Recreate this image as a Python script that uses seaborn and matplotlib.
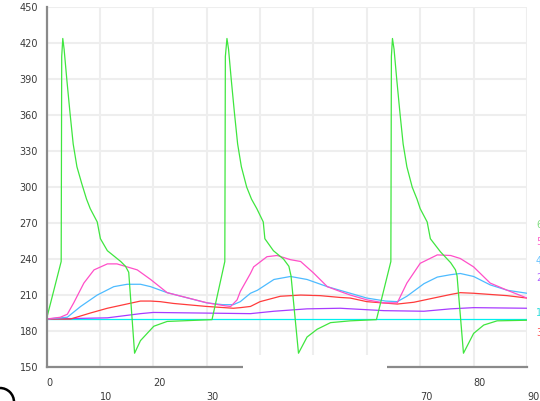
import matplotlib
matplotlib.use("Agg")
import matplotlib.pyplot as plt
import seaborn as sns
import pandas as pd
from matplotlib.patches import Rectangle, Arc

# ---------------- data ----------------
s6_x = [0, 2.75, 2.85, 3.05, 3.3, 3.8, 4.4, 5.0, 5.7, 6.6, 7.5, 8.2, 9.5, 10.1, 11.4, 13.9, 14.8, 15.4,
        16.5, 17.6, 20.1, 22.6, 31.0,
        33.4, 33.5, 33.8, 34.1, 34.6, 35.2, 35.8, 36.5, 37.5, 38.4, 39.4, 40.6, 40.9, 42.5, 44.4, 45.4, 45.8,
        47.2, 48.8, 50.7, 53.2, 56.9, 61.8,
        64.5, 64.6, 64.8, 65.1, 65.6, 66.2, 66.8, 67.5, 68.5, 69.4, 70.0, 71.3, 71.9, 73.8, 75.7, 76.6, 76.9,
        78.1, 80.0, 81.9, 84.4, 90.0]
s6_y = [190, 238, 409, 424, 415, 390, 362, 336, 317, 303, 290, 282, 271, 257, 247, 238, 234, 229,
        161.5, 172, 184, 188, 189.5,
        238, 409, 424, 415, 390, 362, 336, 317, 300, 290, 282, 271, 257, 247, 240, 234, 226,
        161.5, 175, 181.5, 187, 188.5, 189.5,
        238, 409, 424, 415, 390, 362, 336, 317, 300, 290, 282, 271, 257, 246, 237, 231, 226,
        161.5, 178, 185, 188.5, 189]

s5_x = [0, 2.6, 3.9, 5.1, 7.0, 8.9, 11.4, 13.2, 15.1, 17.0, 19.5, 22.6, 30.1, 33.5, 34.5, 35.7, 36.3,
        38.2, 38.8, 41.3, 43.2, 45.7, 47.6, 50.0, 52.6, 55.0, 56.9, 60.0, 63.2, 65.7, 67.5, 70.0, 73.2,
        75.7, 77.5, 80.0, 83.1, 86.3, 90.0]
s5_y = [190, 191.5, 194, 203.5, 220, 231, 236, 236, 233.5, 231, 223, 212, 203.5, 201, 200.5, 206, 213,
        228, 233.5, 242, 243, 239.5, 238, 228.5, 217, 213, 210, 206, 203.5, 203.5, 220, 236.5, 243.5,
        243, 240.5, 233.5, 220, 214, 207.5]

s4_x = [0, 3.9, 6.4, 9.5, 12.6, 15.1, 17.6, 19.5, 22.6, 30.0, 33.0, 35.0, 36.3, 38.2, 39.5, 42.6, 45.7,
        48.8, 52.6, 56.9, 60.0, 63.5, 65.7, 67.5, 70.7, 73.2, 75.7, 77.5, 80.0, 83.1, 86.3, 90.0]
s4_y = [190, 191.5, 200.5, 210, 217, 219, 219, 217, 212, 203.5, 202, 202, 204.5, 211.5, 214, 223, 225.5,
        223, 217, 211.5, 207.5, 205, 204.5, 209, 219.5, 225, 227, 228, 225.5, 218.5, 214, 211.5]

s3_x = [0, 4.5, 8.2, 11.4, 14.5, 17.6, 19.5, 21.3, 23.8, 30.0, 35.0, 36.3, 38.2, 40.0, 43.8, 47.6, 51.3,
        55.0, 56.9, 60.0, 65.7, 68.8, 72.5, 75.7, 77.5, 80.0, 86.3, 90.0]
s3_y = [190, 190, 195, 199, 202, 205, 205, 204.5, 203, 200.5, 199, 199.5, 200.5, 204.5, 209, 210, 209.5,
        208, 207.5, 204.5, 202.5, 204, 207.5, 210.5, 212, 211.5, 209.5, 207.5]

s2_x = [0, 11.4, 17.6, 20.0, 38.2, 42.6, 48.8, 55.0, 63.2, 70.7, 75.7, 80.0, 90.0]
s2_y = [190, 191, 194.5, 195.5, 194.5, 196.5, 198.5, 199, 197, 196.5, 198.5, 199.5, 199]

s1_x = [0, 90]
s1_y = [190, 190]

series_names = ["6", "5", "4", "2", "1", "3"]
series_colors = ["#3fe63f", "#ff4fc8", "#4dbbff", "#a83cff", "#00f0f0", "#ff3b3b"]
label_colors = ["#7fdc7f", "#ff66cc", "#66c2ff", "#b266ff", "#33dddd", "#ff5555"]

x_major = [0, 20, 40, 60, 80]
x_major_labels = ["0", "20", "", "", "80"]
x_minor = [10, 30, 50, 70, 90]
x_minor_labels = ["10", "30", "", "70", "90"]
y_ticks = [150, 180, 210, 240, 270, 300, 330, 360, 390, 420, 450]

# ---------------- build table ----------------
series_data = {"6": (s6_x, s6_y), "5": (s5_x, s5_y), "4": (s4_x, s4_y),
               "2": (s2_x, s2_y), "1": (s1_x, s1_y), "3": (s3_x, s3_y)}
rows = []
for name in ["1", "2", "3", "4", "5", "6"]:
    xs, ys = series_data[name]
    for xv, yv in zip(xs, ys):
        rows.append({"x": xv, "y": yv, "series": name})
df = pd.DataFrame(rows)
palette = dict(zip(series_names, series_colors))

# ---------------- plot ----------------
sns.set_style("white")
plt.rcParams["font.family"] = ["DejaVu Sans"]

W, H = 540, 401
fig = plt.figure(figsize=(W / 100, H / 100), dpi=100)
left, right, top, bottom = 46.5, 527, 7.3, 367
ax = fig.add_axes([left / W, 1 - bottom / H, (right - left) / W, (bottom - top) / H])

sns.lineplot(data=df, x="x", y="y", hue="series", hue_order=["1", "2", "3", "4", "5", "6"],
             palette=palette, estimator=None, sort=False, legend=False, linewidth=0.9, ax=ax)

ax.set_xlim(0, 90)
ax.set_ylim(150, 450)
ax.set_xlabel("")
ax.set_ylabel("")
ax.set_yticks(y_ticks)
ax.set_yticklabels([str(v) for v in y_ticks])
ax.set_xticks(x_major)
ax.set_xticklabels(x_major_labels, ha="left")
ax.set_xticks(x_minor, minor=True)
ax.set_xticklabels(x_minor_labels, minor=True, ha="left")

grid_c = "#eeeeee"
ax.xaxis.grid(True, which="both", color=grid_c, linewidth=1.5)
ax.yaxis.grid(True, which="major", color=grid_c, linewidth=1.5)
ax.set_axisbelow(True)

txt_c = "#3a3a3a"
ax.tick_params(axis="x", which="major", length=0, pad=8, labelsize=7, labelcolor=txt_c)
ax.tick_params(axis="x", which="minor", length=11, width=1.5, color=grid_c, pad=7,
               labelsize=7, labelcolor=txt_c)
ax.tick_params(axis="y", length=0, pad=6, labelsize=7, labelcolor=txt_c)

for sp in ["top", "right"]:
    ax.spines[sp].set_visible(False)
for sp in ["left", "bottom"]:
    ax.spines[sp].set_color("#8a8a8a")
    ax.spines[sp].set_linewidth(1.6)

# right-edge series labels (clipped by the figure edge, as in the reference)
label_y = [225, 242, 261.5, 278, 313, 333]
for name, col, py in zip(series_names, label_colors, label_y):
    fig.text(536 / W, 1 - py / H, name, color=col, fontsize=7, ha="left", va="center")

# white overlay box hiding part of the axis, as in the reference
fig.add_artist(Rectangle((243 / W, 0), 144 / W, (H - 355) / H, transform=fig.transFigure,
                         facecolor="white", edgecolor="none", zorder=5))
# black rounded corner fragment at bottom-left
fig.add_artist(Arc((0, -1 / H), 28 / W, 28 / H, theta1=0, theta2=90, transform=fig.transFigure,
                   color="black", linewidth=1.8, zorder=6))

fig.savefig("out.png", dpi=100)
